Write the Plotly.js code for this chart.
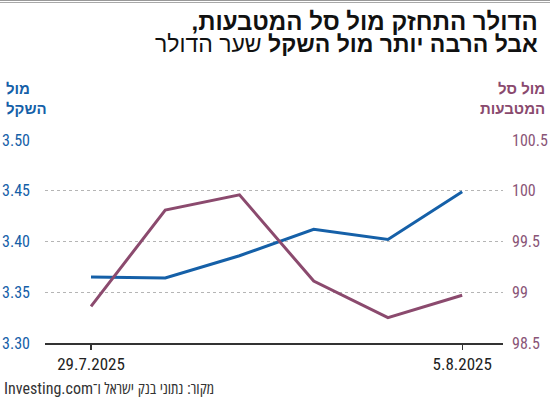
<!DOCTYPE html>
<html>
<head>
<meta charset="utf-8">
<script src="https://cdn.plot.ly/plotly-3.0.1.min.js"></script>
<style>
html,body{margin:0;padding:0;background:#fff;}
#chart{width:550px;height:397px;}
text{font-stretch:75%;}
</style>
</head>
<body>
<div id="chart"></div>
<script>
// Data
const dates = ["29.7.2025", "30.7.2025", "31.7.2025", "1.8.2025", "4.8.2025", "5.8.2025"];
const usdIls = [3.365, 3.364, 3.386, 3.412, 3.402, 3.449];
const usdBasket = [98.86, 99.81, 99.96, 99.11, 98.75, 98.97];
const xTickLabels = ["29.7.2025", "5.8.2025"];
const leftTicks = [3.30, 3.35, 3.40, 3.45, 3.50];
const rightTicks = [98.5, 99, 99.5, 100, 100.5];

const titleLine1 = "הדולר התחזק מול סל המטבעות,";
const titleLine2Bold = "אבל הרבה יותר מול השקל";
const titleLine2Reg = "שער הדולר";
const leftLabel = "מול<br>השקל";
const rightLabel = "מול סל<br>המטבעות";
const sourceText = "מקור: נתוני בנק ישראל ו־Investing.com";

const BLUE = "#1560a8";
const PURPLE = "#8b4a6e";
const NARROW = "Roboto, 'Open Sans', sans-serif";
const BOLDF = "'Liberation Sans', 'DejaVu Sans', sans-serif";

// geometry helpers (pixel -> paper)
const M = {l:45, r:47, t:140, b:54};
const W = 550, H = 397;
const pw = W - M.l - M.r, ph = H - M.t - M.b;
const px = X => (X - M.l) / pw;
const py = Y => (H - M.b - Y) / ph;

const traces = [
  {x: dates, y: usdIls, type:'scatter', mode:'lines', yaxis:'y',
   line:{color:BLUE, width:3}, hoverinfo:'skip'},
  {x: dates, y: usdBasket, type:'scatter', mode:'lines', yaxis:'y2',
   line:{color:PURPLE, width:3}, hoverinfo:'skip'}
];

const titleText =
  '<span style="font-size:24px"><b>' + titleLine1 + '\u200F</b></span><br>' +
  '<span style="font-size:23px"><b>' + titleLine2Bold + '</b> ' + titleLine2Reg + '</span>';

const layout = {
  width: W, height: H,
  margin: M,
  paper_bgcolor:'#fff', plot_bgcolor:'#fff',
  showlegend:false,
  xaxis:{
    type:'category', range:[-0.62, 5.55],
    tickvals: xTickLabels, ticktext: xTickLabels,
    ticks:'outside', ticklen:5, tickwidth:1.2, tickcolor:'#333',
    showline:true, linecolor:'#333', linewidth:1.5,
    showgrid:false, zeroline:false,
    tickfont:{family:NARROW, size:17, color:'#222'}
  },
  xaxis2:{
    type:'category', range:[-0.62, 5.55], overlaying:'x', anchor:'y', side:'bottom',
    tickvals: xTickLabels, ticks:'inside', ticklen:4, tickwidth:1.2, tickcolor:'#333',
    showticklabels:false, showline:false, showgrid:false, zeroline:false
  },
  yaxis:{
    range:[3.30, 3.50], tickvals: leftTicks, tickformat:'.2f',
    showgrid:true, gridcolor:'#b5b5b5', griddash:'dot', gridwidth:1,
    zeroline:false, showline:false, ticks:'',
    ticklabelstandoff:14,
    tickfont:{family:NARROW, size:16, color:BLUE}
  },
  yaxis2:{
    range:[98.5, 100.5], tickvals: rightTicks, overlaying:'y', side:'right',
    showgrid:false, zeroline:false, showline:false, ticks:'',
    ticklabelstandoff:8,
    tickfont:{family:NARROW, size:16, color:'#8a5577'}
  },
  shapes:[
    {type:'line', xref:'paper', yref:'paper', x0:px(0), x1:px(550), y0:py(0.5), y1:py(0.5), line:{color:'#999', width:1}},
    {type:'line', xref:'paper', yref:'paper', x0:px(0), x1:px(550), y0:py(2.5), y1:py(2.5), line:{color:'#a8a8a8', width:1}}
  ],
  annotations:[
    {xref:'paper', yref:'paper', x:px(540), y:py(32), xanchor:'right', yanchor:'middle', align:'right', showarrow:false,
     text: titleText, font:{family:BOLDF, size:17, color:'#111'}},
    {xref:'paper', yref:'paper', x:px(4), y:py(99), xanchor:'left', yanchor:'middle', align:'left', showarrow:false,
     text:'<b>' + leftLabel + '</b>', font:{family:BOLDF, size:15, color:BLUE}},
    {xref:'paper', yref:'paper', x:px(547), y:py(99), xanchor:'right', yanchor:'middle', align:'right', showarrow:false,
     text:'<b>' + rightLabel + '</b>', font:{family:BOLDF, size:15, color:'#8a4a6e'}},
    {xref:'paper', yref:'paper', x:px(2), y:py(388), xanchor:'left', yanchor:'middle', showarrow:false,
     text:'\u202B' + sourceText + '\u202C', font:{family:NARROW, size:16, color:'#333'}}
  ]
};

Plotly.newPlot('chart', traces, layout, {staticPlot:true, displayModeBar:false});
</script>
</body>
</html>
